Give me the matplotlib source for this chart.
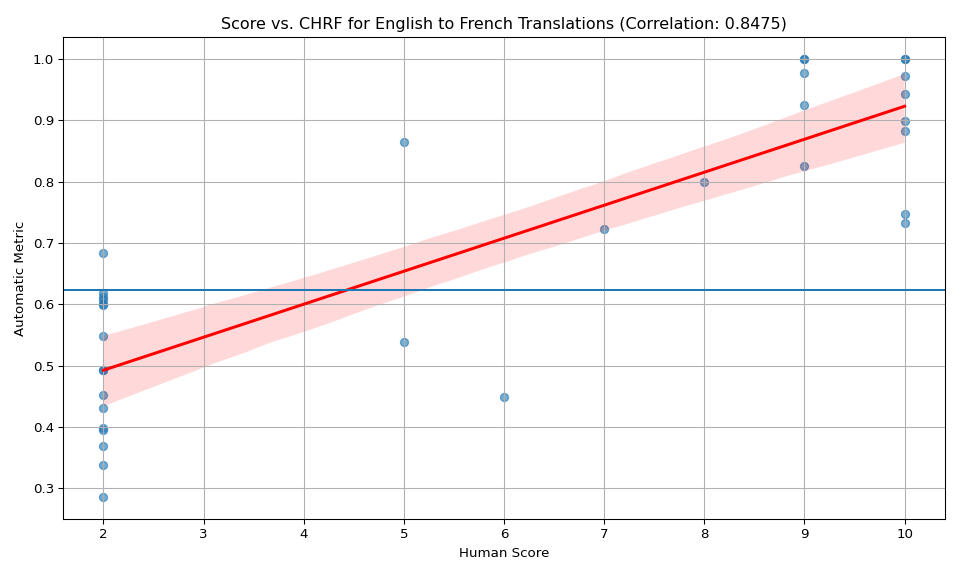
import matplotlib
matplotlib.use('Agg')
import matplotlib.pyplot as plt
import numpy as np
import seaborn as sns

# human scores and chrF values
human_score = [2, 2, 2, 2, 2, 2, 2, 2, 2, 2, 2, 2, 2, 2, 2, 2,
               5, 5, 6, 7, 8,
               9, 9, 9, 9, 9,
               10, 10, 10, 10, 10, 10, 10, 10]
chrf = [0.683, 0.618, 0.612, 0.607, 0.600, 0.599, 0.548, 0.493, 0.452, 0.431,
        0.398, 0.395, 0.369, 0.339, 0.286, 0.493,
        0.864, 0.539, 0.449, 0.722, 0.800,
        1.000, 1.000, 0.977, 0.924, 0.825,
        1.000, 1.000, 0.972, 0.943, 0.899, 0.883, 0.747, 0.733]
threshold = 0.624
corr = 0.8475

np.random.seed(0)
fig = plt.figure(figsize=(10, 6), dpi=96)
ax = sns.regplot(x=np.array(human_score), y=np.array(chrf),
                 scatter_kws={'alpha': 0.6}, line_kws={'color': 'red'})
plt.axhline(y=threshold)
plt.grid(True)
plt.xlabel('Human Score')
plt.ylabel('Automatic Metric')
plt.title('Score vs. CHRF for English to French Translations (Correlation: %.4f)' % corr)
plt.subplots_adjust(left=0.066, right=0.984, top=0.936, bottom=0.099)
plt.savefig('out.png')
